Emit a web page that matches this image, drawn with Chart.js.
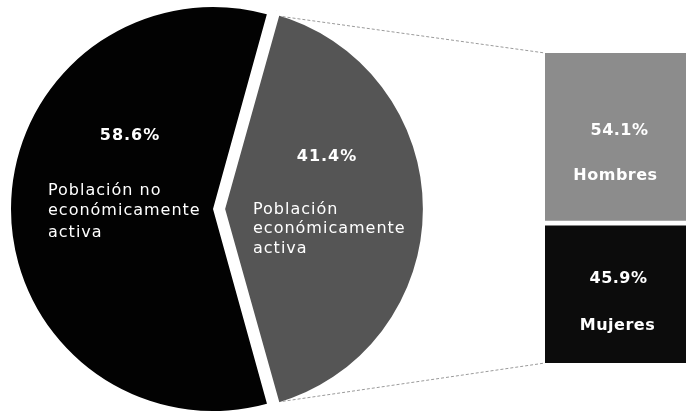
<!DOCTYPE html>
<html lang="es">
<head>
<meta charset="utf-8">
<title>Población económicamente activa</title>
<script src="https://cdn.jsdelivr.net/npm/chart.js@4.4.1/dist/chart.umd.min.js"></script>
<style>
  html, body { margin: 0; padding: 0; background: #fff; }
  #wrap { position: relative; width: 686px; height: 412px; overflow: hidden; }
  #wrap canvas { position: absolute; left: 0; top: 0; }
</style>
</head>
<body>
<div id="wrap">
  <canvas id="pastel" width="686" height="412"></canvas>
  <canvas id="barra" width="686" height="412"></canvas>
</div>
<script>
// Datos
const categorias = ["Población no económicamente activa", "Población económicamente activa"];
const valores = [58.6, 41.4];
const lineasCategoria = [
    ["Población no", "económicamente", "activa"],
    ["Población", "económicamente", "activa"]
];
const generos = ["Hombres", "Mujeres"];
const valoresGenero = [54.1, 45.9];

const fuente = '"DejaVu Sans", Verdana, sans-serif';

function porcentaje(v) {
    return v.toFixed(1) + "%";
}

// Posición de los textos respecto al centro de cada sector
const posTextos = [
    { pct: [-83, -73], x: -165, lineas: [-18, 2, 24] },
    { pct: [106, -52], x: 32, lineas: [1, 20, 40] }
];

const etiquetasPastel = {
    id: "etiquetasPastel",
    afterDatasetsDraw(chart) {
        const ctx = chart.ctx;
        const meta = chart.getDatasetMeta(0);
        ctx.save();
        ctx.fillStyle = "#fff";
        ctx.textBaseline = "middle";
        meta.data.forEach((arc, i) => {
            const p = posTextos[i];
            const off = (arc.options.offset || 0) / 4;
            const mitad = (arc.startAngle + arc.endAngle) / 2;
            const cx = arc.x + Math.cos(mitad) * off;
            const cy = arc.y + Math.sin(mitad) * off;
            ctx.letterSpacing = "1px";
            ctx.font = "bold 16px " + fuente;
            ctx.textAlign = "center";
            ctx.fillText(porcentaje(valores[i]), cx + p.pct[0], cy + p.pct[1]);
            ctx.font = "16px " + fuente;
            ctx.textAlign = "left";
            lineasCategoria[i].forEach((t, j) => {
                ctx.fillText(t, cx + p.x, cy + p.lineas[j]);
            });
        });
        ctx.restore();
    }
};

const graficoPastel = new Chart(document.getElementById("pastel"), {
    type: "pie",
    data: {
        labels: categorias,
        datasets: [{
            data: valores,
            backgroundColor: ["#020202", "#555555"],
            borderColor: "#fff",
            borderWidth: [0, 8],
            borderAlign: "center",
            offset: [0, 32],
            radius: 202
        }]
    },
    options: {
        responsive: false,
        animation: false,
        rotation: 164.5,
        layout: { padding: { left: 0, right: 260, top: 6, bottom: 0 } },
        plugins: {
            legend: { display: false },
            tooltip: { enabled: false }
        }
    },
    plugins: [etiquetasPastel]
});

// Barra apilada (Mujeres abajo, Hombres arriba) con líneas de unión
const etiquetasBarra = {
    id: "etiquetasBarra",
    afterDraw(chart) {
        const ctx = chart.ctx;
        const barH = chart.getDatasetMeta(1).data[0];
        const barM = chart.getDatasetMeta(0).data[0];

        // líneas desde el sector gris
        const arc = graficoPastel.getDatasetMeta(0).data[1];
        const off = (arc.options.offset || 0) / 4;
        const mitad = (arc.startAngle + arc.endAngle) / 2;
        const cx = arc.x + Math.cos(mitad) * off;
        const cy = arc.y + Math.sin(mitad) * off;
        const r = arc.outerRadius;
        const izq = barH.x - barH.width / 2;
        ctx.save();
        ctx.strokeStyle = "#9a9a9a";
        ctx.lineWidth = 1;
        ctx.setLineDash([3, 2]);
        ctx.beginPath();
        ctx.moveTo(cx + Math.cos(arc.startAngle + 0.04) * r, cy + Math.sin(arc.startAngle + 0.04) * r);
        ctx.lineTo(izq, barH.y);
        ctx.moveTo(cx + Math.cos(arc.endAngle - 0.04) * r, cy + Math.sin(arc.endAngle - 0.04) * r);
        ctx.lineTo(izq, barM.base);
        ctx.stroke();
        ctx.restore();

        ctx.save();
        ctx.fillStyle = "#fff";
        ctx.textAlign = "center";
        ctx.textBaseline = "middle";
        ctx.letterSpacing = "0.5px";
        ctx.font = "bold 16px " + fuente;
        const yH = (barH.y + barH.base) / 2;
        const yM = (barM.y + barM.base) / 2;
        ctx.fillText(porcentaje(valoresGenero[0]), barH.x + 4, yH - 6);
        ctx.fillText(generos[0], barH.x, yH + 39);
        ctx.fillText(porcentaje(valoresGenero[1]), barM.x + 3, yM - 13);
        ctx.fillText(generos[1], barM.x + 2, yM + 34);
        ctx.restore();
    }
};

new Chart(document.getElementById("barra"), {
    type: "bar",
    data: {
        labels: [categorias[1]],
        datasets: [
            {
                label: generos[1],
                data: [valoresGenero[1]],
                backgroundColor: "#0c0c0c",
                borderColor: "#fff",
                borderWidth: { top: 5, right: 0, bottom: 0, left: 0 },
                borderSkipped: false
            },
            {
                label: generos[0],
                data: [valoresGenero[0]],
                backgroundColor: "#8c8c8c",
                borderWidth: 0
            }
        ]
    },
    options: {
        responsive: false,
        animation: false,
        barPercentage: 1,
        categoryPercentage: 1,
        layout: { padding: { left: 545, right: 0, top: 53, bottom: 49 } },
        scales: {
            x: { display: false, stacked: true },
            y: { display: false, stacked: true, min: 0, max: 100 }
        },
        plugins: {
            legend: { display: false },
            tooltip: { enabled: false }
        }
    },
    plugins: [etiquetasBarra]
});
</script>
</body>
</html>
